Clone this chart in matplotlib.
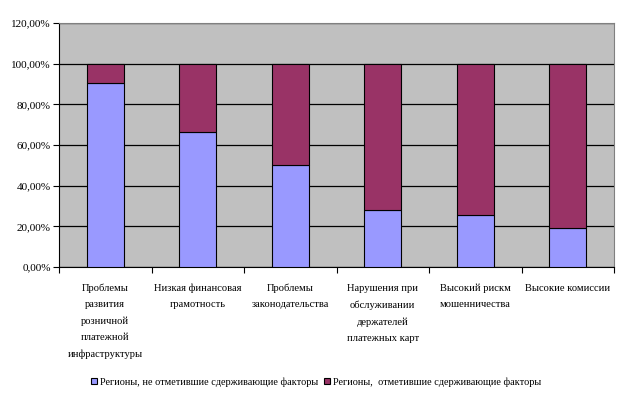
import numpy as np
import matplotlib.pyplot as plt
from matplotlib.ticker import FuncFormatter, FixedLocator

categories = [
    "Проблемы\nразвития\nрозничной\nплатежной\nинфраструктуры",
    "Низкая финансовая\nграмотность",
    "Проблемы\nзаконодательства",
    "Нарушения при\nобслуживании\nдержателей\nплатежных карт",
    "Высокий рискм\nмошенничества",
    "Высокие комиссии",
]
not_noted = [0.905, 0.663, 0.50, 0.28, 0.254, 0.19]
noted = [1 - v for v in not_noted]
series_names = [
    "Регионы, не отметившие сдерживающие факторы",
    "Регионы,  отметившие сдерживающие факторы",
]

plt.rcParams['font.family'] = ['Liberation Serif', 'DejaVu Serif']

fig = plt.figure(figsize=(6.24, 3.95), dpi=100)
ax = fig.add_axes([59 / 624, 1 - 267 / 395, 555 / 624, 244 / 395])
ax.set_facecolor('#c0c0c0')

x = np.arange(len(categories))
ax.bar(x, not_noted, width=0.4, color='#9999ff', edgecolor='black', linewidth=0.8,
       label=series_names[0], zorder=3)
ax.bar(x, noted, width=0.4, bottom=not_noted, color='#993366', edgecolor='black',
       linewidth=0.8, label=series_names[1], zorder=3)

ax.set_xlim(-0.5, len(categories) - 0.5)
ax.set_ylim(0, 1.2)
ax.set_yticks(np.arange(0, 1.21, 0.2))
ax.yaxis.set_major_formatter(FuncFormatter(lambda v, p: f"{v * 100:.2f}%".replace('.', ',')))
ax.grid(axis='y', color='black', linewidth=0.9, zorder=1)

ax.set_xticks(x)
ax.set_xticklabels(categories, fontsize=7.6, linespacing=2.0, va='top')
ax.tick_params(axis='x', which='major', length=0, pad=12)
ax.xaxis.set_minor_locator(FixedLocator(np.arange(-0.5, len(categories), 1)))
ax.tick_params(axis='x', which='minor', length=4, width=0.8)
ax.tick_params(axis='y', labelsize=8, length=4, width=0.8, pad=2)

for s in ['top', 'right']:
    ax.spines[s].set_color('#808080')
for s in ['left', 'bottom']:
    ax.spines[s].set_color('black')

fig.legend(loc='center', bbox_to_anchor=(316 / 624, 1 - 382 / 395), ncol=2, frameon=False,
           fontsize=7.4, handlelength=0.6, handleheight=0.6, handletextpad=0.3,
           columnspacing=0.5)

fig.savefig('out.png', dpi=100)
